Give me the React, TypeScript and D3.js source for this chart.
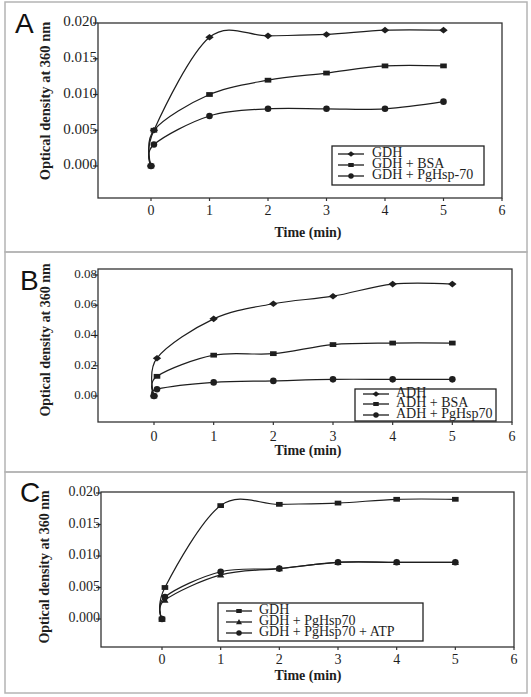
import React from "react";
import * as d3 from "d3";

// ---------- data ----------
const times = [0, 0.05, 1, 2, 3, 4, 5];
const xTicks = [0, 1, 2, 3, 4, 5, 6];

const gdhA = [0, 0.005, 0.018, 0.0182, 0.0184, 0.019, 0.019];
const gdhBsaA = [0, 0.005, 0.01, 0.012, 0.013, 0.014, 0.014];
const gdhHspA = [0, 0.003, 0.007, 0.008, 0.008, 0.008, 0.009];
const yTicksA = [0, 0.005, 0.01, 0.015, 0.02];
const namesA = ["GDH", "GDH + BSA", "GDH + PgHsp-70"];

const adhB = [0, 0.025, 0.051, 0.061, 0.066, 0.074, 0.074];
const adhBsaB = [0, 0.013, 0.027, 0.028, 0.034, 0.035, 0.035];
const adhHspB = [0, 0.0045, 0.009, 0.01, 0.011, 0.011, 0.011];
const yTicksB = [0, 0.02, 0.04, 0.06, 0.08];
const namesB = ["ADH", "ADH + BSA", "ADH + PgHsp70"];

const gdhC = [0, 0.005, 0.018, 0.0182, 0.0184, 0.019, 0.019];
const gdhHspC = [0, 0.003, 0.007, 0.008, 0.009, 0.009, 0.009];
const gdhHspAtpC = [0, 0.0035, 0.0075, 0.008, 0.009, 0.009, 0.009];
const yTicksC = [0, 0.005, 0.01, 0.015, 0.02];
const namesC = ["GDH", "GDH + PgHsp70", "GDH + PgHsp70 + ATP"];

type Marker = "diamond" | "square" | "circle" | "triangle";

interface PanelCfg {
  letter: string;
  letterX: number;
  letterY: number;
  panelTop: number;
  panelBottom: number;
  frame: { l: number; r: number; t: number; b: number };
  x0: number;
  x6: number;
  y0px: number;
  yTopPx: number;
  yTopVal: number;
  yTicks: number[];
  yFmt: string;
  yFont: number;
  series: number[][];
  markers: Marker[];
  names: string[];
  legend: { l: number; r: number; t: number; b: number; textX: number; rows: number[]; lineL: number; lineR: number };
  xLabelY: number;
  xTitleY: number;
  yTitleX: number;
  yTitleY: number;
}

const ink = "#1e1e1e";
const serif = "'Liberation Serif', 'Times New Roman', serif";

const panels: PanelCfg[] = [
  {
    letter: "A", letterX: 15, letterY: 33, panelTop: 2, panelBottom: 252,
    frame: { l: 98, r: 502, t: 23, b: 198 },
    x0: 151, x6: 502, y0px: 166, yTopPx: 23, yTopVal: 0.02,
    yTicks: yTicksA, yFmt: ".3f", yFont: 15,
    series: [gdhA, gdhBsaA, gdhHspA], markers: ["diamond", "square", "circle"], names: namesA,
    legend: { l: 332, r: 484, t: 146, b: 185, textX: 372, rows: [154, 165, 176], lineL: 338, lineR: 364 },
    xLabelY: 212, xTitleY: 234, yTitleX: 47, yTitleY: 101,
  },
  {
    letter: "B", letterX: 20, letterY: 290, panelTop: 252, panelBottom: 472,
    frame: { l: 98, r: 512, t: 269, b: 422 },
    x0: 154, x6: 512, y0px: 396, yTopPx: 275, yTopVal: 0.08,
    yTicks: yTicksB, yFmt: ".2f", yFont: 13,
    series: [adhB, adhBsaB, adhHspB], markers: ["diamond", "square", "circle"], names: namesB,
    legend: { l: 355, r: 496, t: 389, b: 421, textX: 396, rows: [394, 404, 415], lineL: 363, lineR: 389 },
    xLabelY: 438, xTitleY: 452, yTitleX: 47, yTitleY: 340,
  },
  {
    letter: "C", letterX: 20, letterY: 502, panelTop: 472, panelBottom: 693,
    frame: { l: 101, r: 514, t: 492, b: 647 },
    x0: 162, x6: 514, y0px: 619, yTopPx: 493, yTopVal: 0.02,
    yTicks: yTicksC, yFmt: ".3f", yFont: 14,
    series: [gdhC, gdhHspC, gdhHspAtpC], markers: ["square", "triangle", "circle"], names: namesC,
    legend: { l: 218, r: 423, t: 603, b: 641, textX: 259, rows: [611, 622, 633], lineL: 226, lineR: 252 },
    xLabelY: 661, xTitleY: 677, yTitleX: 46, yTitleY: 567,
  },
];

function markerPath(m: Marker, x: number, y: number, s: number): React.ReactNode {
  if (m === "circle") return <circle cx={x} cy={y} r={s * 0.55} fill={ink} />;
  if (m === "square") return <rect x={x - s * 0.55} y={y - s * 0.4} width={s * 1.1} height={s * 0.8} fill={ink} />;
  if (m === "diamond")
    return <path d={`M${x - s * 0.7},${y} L${x},${y - s * 0.55} L${x + s * 0.7},${y} L${x},${y + s * 0.55} Z`} fill={ink} />;
  return <path d={`M${x - s * 0.6},${y + s * 0.45} L${x},${y - s * 0.6} L${x + s * 0.6},${y + s * 0.45} Z`} fill={ink} />;
}

function Panel({ p }: { p: PanelCfg }) {
  const x = d3.scaleLinear().domain([0, 6]).range([p.x0, p.x6]);
  const y = d3.scaleLinear().domain([0, p.yTopVal]).range([p.y0px, p.yTopPx]);
  const fmt = d3.format(p.yFmt);
  const line = d3
    .line<number>()
    .x((_, i) => x(times[i]))
    .y((v) => y(v))
    .curve(d3.curveCardinal.tension(0));
  const f = p.frame;
  const lg = p.legend;
  return (
    <g>
      <text x={p.letterX} y={p.letterY} fontFamily="'Liberation Sans', Arial, sans-serif" fontSize={28} fill="#111">
        {p.letter}
      </text>
      <rect x={f.l} y={f.t} width={f.r - f.l} height={f.b - f.t} fill="none" stroke="#333" strokeWidth={1.3} />
      {xTicks.map((t) => (
        <g key={t}>
          <line x1={x(t)} x2={x(t)} y1={f.b} y2={f.b + 3} stroke="#333" strokeWidth={1.2} />
          <text x={x(t)} y={p.xLabelY} textAnchor="middle" dominantBaseline="middle" fontFamily={serif} fontSize={14} fill={ink}>
            {t}
          </text>
        </g>
      ))}
      {p.yTicks.map((t) => (
        <g key={t}>
          <line x1={f.l - 5} x2={f.l} y1={y(t)} y2={y(t)} stroke="#333" strokeWidth={1.2} />
          <text x={f.l - 1} y={y(t)} textAnchor="end" dominantBaseline="middle" fontFamily={serif} fontSize={p.yFont} fill={ink}>
            {fmt(t)}
          </text>
        </g>
      ))}
      <text x={308} y={p.xTitleY} textAnchor="middle" dominantBaseline="middle" fontFamily={serif} fontWeight="bold" fontSize={14} fill={ink}>
        Time (min)
      </text>
      <text
        transform={`translate(${p.yTitleX},${p.yTitleY}) rotate(-90)`}
        textAnchor="middle"
        dominantBaseline="middle"
        fontFamily={serif}
        fontWeight="bold"
        fontSize={p.letter === "A" ? 14.5 : 14}
        fill={ink}
      >
        Optical density at 360 nm
      </text>
      {p.series.map((s, si) => (
        <g key={si}>
          <path d={line(s) || ""} fill="none" stroke={ink} strokeWidth={1.2} />
          {s.map((v, i) => (
            <g key={i}>{markerPath(p.markers[si], x(times[i]), y(v), 6)}</g>
          ))}
        </g>
      ))}
      <rect x={lg.l} y={lg.t} width={lg.r - lg.l} height={lg.b - lg.t} fill="white" stroke="#222" strokeWidth={1.3} />
      {p.names.map((n, i) => (
        <g key={n}>
          <line x1={lg.lineL} x2={lg.lineR} y1={lg.rows[i]} y2={lg.rows[i]} stroke={ink} strokeWidth={1.3} />
          {markerPath(p.markers[i], (lg.lineL + lg.lineR) / 2, lg.rows[i], 5)}
          <text x={lg.textX} y={lg.rows[i]} dominantBaseline="middle" fontFamily={serif} fontSize={14} fill={ink}>
            {n}
          </text>
        </g>
      ))}
    </g>
  );
}

export default function App() {
  return (
    <svg width={531} height={697} style={{ position: "absolute", left: 0, top: 0, background: "white" }}>
      <rect x={0} y={0} width={531} height={697} fill="white" />
      {panels.map((p) => (
        <g key={p.letter}>
          <rect x={5} y={p.panelTop} width={522} height={p.panelBottom - p.panelTop} fill="none" stroke="#b4b4b4" strokeWidth={1.5} />
          <Panel p={p} />
        </g>
      ))}
    </svg>
  );
}
